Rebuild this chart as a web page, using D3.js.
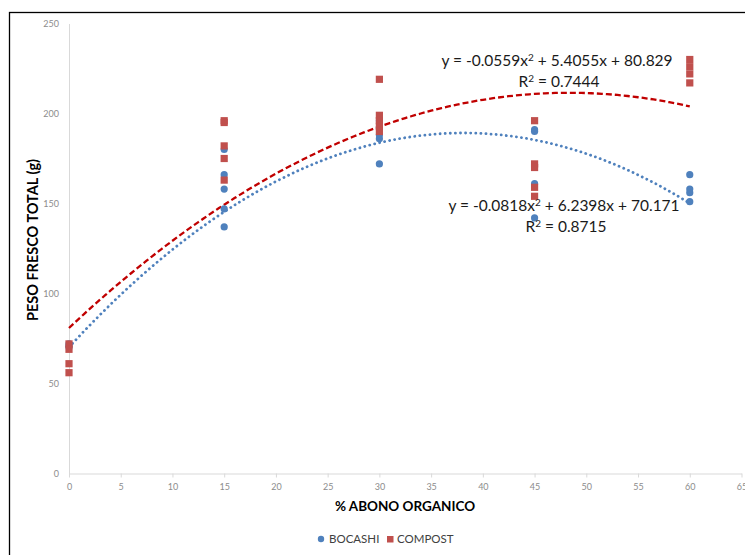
<!DOCTYPE html>
<html>
<head>
<meta charset="utf-8">
<script src="https://cdn.jsdelivr.net/npm/d3@7"></script>
<style>
  html, body { margin: 0; padding: 0; background: #fff; }
  svg { display: block; }
</style>
</head>
<body>
<svg id="chart" width="745" height="555"></svg>
<script>
// ---- data ----
const xTicks = [0, 5, 10, 15, 20, 25, 30, 35, 40, 45, 50, 55, 60, 65];
const yTicks = [0, 50, 100, 150, 200, 250];

const bocashiX = [0, 0, 0, 15, 15, 15, 15, 15, 30, 30, 30, 30, 30, 45, 45, 45, 45, 60, 60, 60, 60];
const bocashiY = [70, 71, 72, 180, 166, 158, 147, 137, 196, 192, 188, 186, 172, 191, 190, 161, 142, 166, 158, 156, 151];

const compostX = [0, 0, 0, 0, 15, 15, 15, 15, 15, 30, 30, 30, 30, 30, 45, 45, 45, 45, 45, 60, 60, 60, 60];
const compostY = [72, 69, 61, 56, 196, 195, 182, 175, 163, 219, 199, 196, 193, 190, 196, 172, 170, 159, 154, 230, 226, 222, 217];

const bocashiCoef = [-0.0818, 6.2398, 70.171];
const compostCoef = [-0.0559, 5.4055, 80.829];

const seriesNames = ["BOCASHI", "COMPOST"];
const bocashiEq = ["y = -0.0818x", "2", " + 6.2398x + 70.171"];
const bocashiR2 = "0.8715";
const compostEq = ["y = -0.0559x", "2", " + 5.4055x + 80.829"];
const compostR2 = "0.7444";

const xTitle = "% ABONO ORGANICO";
const yTitle = "PESO FRESCO TOTAL (g)";

// ---- layout ----
const svg = d3.select("#chart");
const FONT = "Lato, 'Open Sans', sans-serif";
const blue = "#4f81bd", red = "#c0504d";

svg.append("rect").attr("x", 9.5).attr("y", 12.5).attr("width", 760).attr("height", 560)
  .attr("fill", "none").attr("stroke", "#000").attr("stroke-width", 1.3);

const x = d3.scaleLinear().domain([0, 65]).range([69, 741.5]);
const y = d3.scaleLinear().domain([0, 250]).range([473.5, 23.5]);

// y axis
const yAxis = svg.append("g").attr("transform", `translate(${x(0)},0)`)
  .call(d3.axisLeft(y).tickValues(yTicks).tickSize(0).tickPadding(10));
yAxis.select(".domain").attr("stroke", "#d9d9d9");
yAxis.selectAll("text").attr("fill", "#8c8c8c").style("font-family", FONT).style("font-size", "9px");

// x axis
const xAxis = svg.append("g").attr("transform", `translate(0,${y(0)})`)
  .call(d3.axisBottom(x).tickValues(xTicks).tickSize(4).tickPadding(6).tickSizeOuter(0));
xAxis.select(".domain").attr("stroke", "#d9d9d9");
xAxis.selectAll("line").attr("stroke", "#d9d9d9");
xAxis.selectAll("text").attr("fill", "#8c8c8c").style("font-family", FONT).style("font-size", "9px");

// titles
svg.append("text").attr("x", 405).attr("y", 511).attr("text-anchor", "middle")
  .style("font-family", FONT).style("font-weight", "bold").style("font-size", "13.5px")
  .attr("fill", "#000").text(xTitle);
svg.append("text").attr("transform", `translate(38,240) rotate(-90)`).attr("text-anchor", "middle")
  .style("font-family", FONT).style("font-weight", "bold").style("font-size", "14.5px")
  .attr("fill", "#000").text(yTitle);

// trendlines
const quad = c => v => c[0] * v * v + c[1] * v + c[2];
const samples = d3.range(0, 60.01, 0.5);
const line = f => d3.line().x(d => x(d)).y(d => y(f(d)))(samples);

svg.append("path").attr("d", line(quad(bocashiCoef))).attr("fill", "none")
  .attr("stroke", blue).attr("stroke-width", 2.8).attr("stroke-linecap", "round")
  .attr("stroke-dasharray", "0.1,5");
svg.append("path").attr("d", line(quad(compostCoef))).attr("fill", "none")
  .attr("stroke", "#c00000").attr("stroke-width", 2.3)
  .attr("stroke-dasharray", "6,3");

// points
svg.append("g").selectAll("circle").data(d3.range(bocashiX.length)).join("circle")
  .attr("cx", i => x(bocashiX[i])).attr("cy", i => y(bocashiY[i])).attr("r", 3.6)
  .attr("fill", blue);
svg.append("g").selectAll("rect").data(d3.range(compostX.length)).join("rect")
  .attr("x", i => x(compostX[i]) - 3.6).attr("y", i => y(compostY[i]) - 3.6)
  .attr("width", 7.2).attr("height", 7.2).attr("fill", red);

// equations
function equation(parts, r2, cx, cy) {
  const t = svg.append("text").attr("x", cx).attr("y", cy).attr("text-anchor", "middle")
    .style("font-family", FONT).style("font-size", "15.5px").attr("fill", "#1a1a1a");
  t.append("tspan").text(parts[0]);
  t.append("tspan").attr("dy", -5).style("font-size", "10px").text(parts[1]);
  t.append("tspan").attr("dy", 5).text(parts[2]);
  const t2 = svg.append("text").attr("x", cx + 2).attr("y", cy + 21).attr("text-anchor", "middle")
    .style("font-family", FONT).style("font-size", "15.5px").attr("fill", "#1a1a1a");
  t2.append("tspan").text("R");
  t2.append("tspan").attr("dy", -5).style("font-size", "10px").text("2");
  t2.append("tspan").attr("dy", 5).text(" = " + r2);
}
equation(compostEq, compostR2, 557, 66);
equation(bocashiEq, bocashiR2, 564, 211);

// legend
const lg = svg.append("g").style("font-family", FONT).style("font-size", "11.5px");
lg.append("circle").attr("cx", 321).attr("cy", 539).attr("r", 3.2).attr("fill", blue);
lg.append("text").attr("x", 329).attr("y", 543).attr("fill", "#404040").text(seriesNames[0]);
lg.append("rect").attr("x", 387).attr("y", 536).attr("width", 6.5).attr("height", 6.5).attr("fill", red);
lg.append("text").attr("x", 397).attr("y", 543).attr("fill", "#404040").text(seriesNames[1]);
</script>
</body>
</html>
